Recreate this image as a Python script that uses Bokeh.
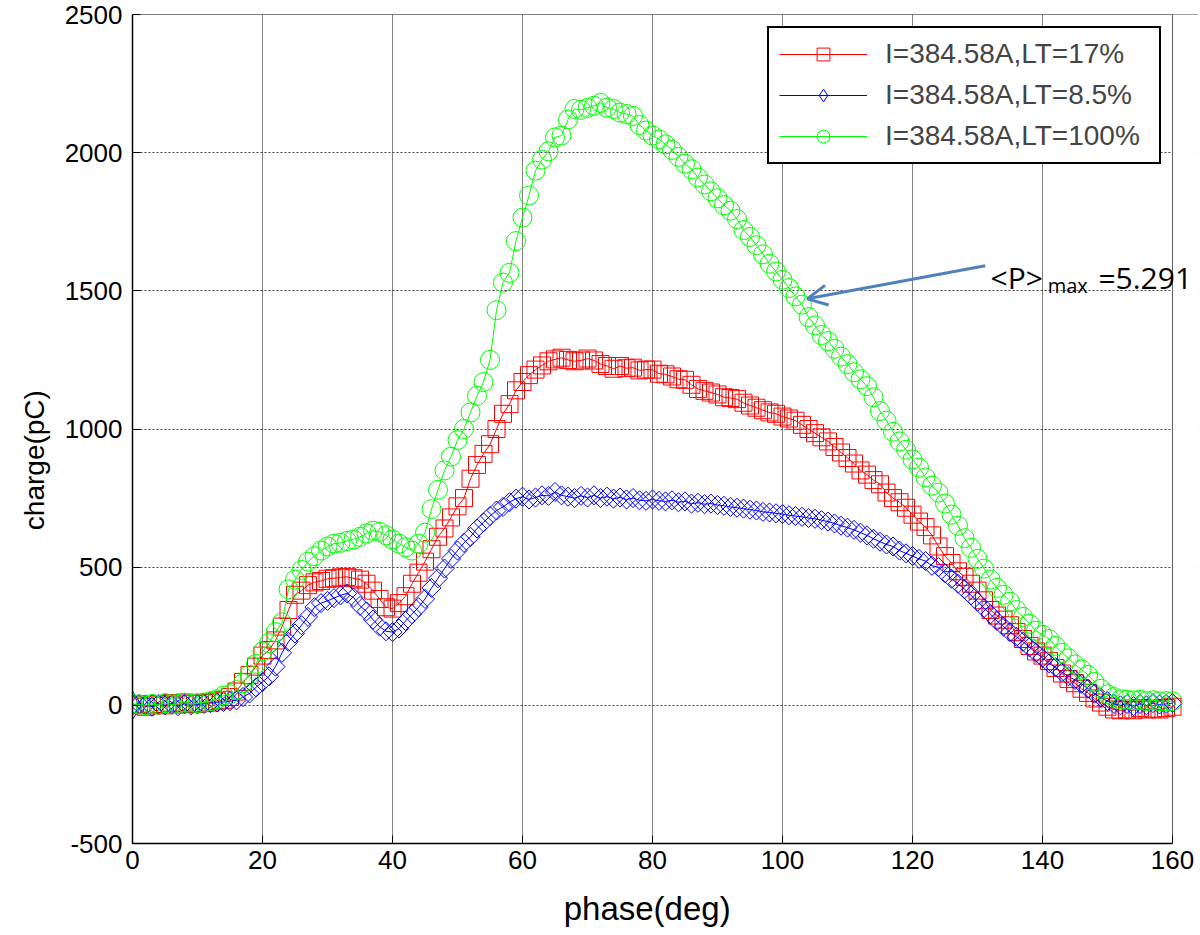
from bokeh.plotting import figure
from bokeh.models import Range1d, Label, Arrow, OpenHead, FixedTicker, Span, BoxAnnotation
from bokeh.embed import file_html
from bokeh.resources import INLINE
import math

phase = list(range(0, 161))

charge_lt17 = [
    0, 5, -5, 0, 5, 0, 8, 3, 10, 5, 5,
    8, 10, 15, 20, 30, 50, 85, 110, 140, 180,
    200, 235, 285, 345, 400, 415, 435, 445, 450, 458,
    460, 463, 465, 460, 455, 440, 415, 385, 355, 350,
    370, 395, 440, 480, 520, 565, 610, 640, 680, 720,
    750, 820, 870, 910, 945, 1000, 1055, 1090, 1140, 1170,
    1195, 1215, 1230, 1245, 1252, 1258, 1250, 1245, 1248, 1255,
    1248, 1235, 1228, 1218, 1228, 1220, 1222, 1212, 1215, 1215,
    1200, 1198, 1190, 1180, 1178, 1160, 1145, 1138, 1132, 1125,
    1115, 1112, 1108, 1095, 1085, 1077, 1068, 1060, 1055, 1045,
    1038, 1030, 1015, 1000, 985, 970, 955, 935, 915, 895,
    875, 850, 835, 815, 800, 770, 750, 735, 715, 690,
    665, 645, 615, 575, 540, 515, 485, 465, 440, 415,
    380, 345, 325, 310, 290, 265, 240, 215, 195, 180,
    160, 135, 115, 95, 80, 60, 45, 25, 10, -5,
    -15, -18, -15, -18, -10, -15, -12, -15, -10, -5,
]

charge_lt85 = [
    0, 5, 0, -5, 5, 0, 3, -3, 5, 0, 3,
    5, 8, 10, 12, 15, 18, 30, 43, 65, 85,
    105, 140, 190, 230, 260, 290, 320, 355, 370, 378,
    388, 398, 405, 390, 360, 340, 310, 285, 268, 265,
    278, 305, 330, 355, 385, 425, 460, 495, 530, 560,
    588, 610, 640, 662, 685, 705, 718, 735, 748, 755,
    745, 752, 760, 758, 772, 760, 755, 750, 758, 752,
    760, 750, 755, 748, 752, 745, 750, 742, 740, 745,
    740, 738, 742, 735, 738, 730, 733, 728, 730, 725,
    722, 718, 715, 712, 708, 705, 700, 698, 695, 692,
    688, 685, 682, 678, 675, 670, 665, 658, 650, 643,
    635, 625, 615, 603, 592, 582, 575, 560, 550, 540,
    530, 522, 505, 500, 478, 458, 440, 420, 398, 375,
    352, 330, 305, 285, 265, 248, 230, 210, 190, 172,
    152, 138, 120, 105, 92, 78, 60, 42, 28, 15,
    5, 0, 5, -3, 5, 0, 8, 3, 5, 8,
]

charge_lt100 = [
    5, 3, 0, 5, 2, 8, 3, 5, 10, 5, 8,
    10, 15, 22, 35, 40, 55, 80, 110, 150, 195,
    225, 265, 300, 420, 455, 490, 520, 540, 560, 575,
    585, 588, 595, 600, 610, 622, 632, 628, 615, 600,
    585, 572, 560, 585, 625, 710, 780, 850, 900, 960,
    1000, 1060, 1120, 1170, 1250, 1430, 1530, 1565, 1680, 1765,
    1845, 1935, 1975, 2005, 2055, 2062, 2120, 2158, 2155, 2162,
    2170, 2180, 2163, 2158, 2145, 2140, 2133, 2100, 2080, 2062,
    2048, 2030, 2010, 1985, 1960, 1940, 1910, 1885, 1860, 1835,
    1810, 1790, 1760, 1720, 1695, 1665, 1632, 1598, 1570, 1540,
    1510, 1480, 1450, 1405, 1375, 1340, 1318, 1290, 1262, 1235,
    1205, 1180, 1155, 1115, 1065, 1030, 990, 955, 925, 890,
    860, 825, 795, 770, 730, 690, 650, 605, 570, 530,
    495, 455, 425, 400, 375, 345, 320, 295, 270, 255,
    240, 215, 190, 170, 148, 130, 110, 85, 60, 40,
    30, 22, 20, 18, 20, 15, 18, 15, 15, 15,
]

x_ticks = [0, 20, 40, 60, 80, 100, 120, 140, 160]
y_ticks = [-500, 0, 500, 1000, 1500, 2000, 2500]
X_MIN, X_MAX = 0, 160
Y_MIN, Y_MAX = -500, 2500

# label, values, colour, plot marker, size, angle, legend marker, legend size
series = [
    ("I=384.58A,LT=17%", charge_lt17, "#ff0000", "square", 17, 0.0, "square", 17),
    ("I=384.58A,LT=8.5%", charge_lt85, "#0000ff", "square", 13.5, math.pi / 4, "diamond", 28),
    ("I=384.58A,LT=100%", charge_lt100, "#00ff00", "circle", 19, 0.0, "circle", 18),
]

FONT = "Liberation Sans"
NBSP = "\u00a0"

# the frame runs a little past x=160 so that the annotation text is not clipped
p = figure(width=1200, height=935, output_backend="svg", toolbar_location=None,
           x_range=Range1d(X_MIN, 164), y_range=Range1d(Y_MIN, Y_MAX),
           min_border_left=132, min_border_right=2, min_border_top=14,
           min_border_bottom=92)
p.background_fill_color = "white"
p.border_fill_color = "white"
p.outline_line_color = None

p.xgrid.grid_line_color = "#808080"
p.xgrid.grid_line_width = 1
p.ygrid.grid_line_color = "#404040"
p.ygrid.grid_line_dash = "2 2"
p.ygrid.grid_line_width = 1

# box edges (top and right), and a white strip hiding grid beyond x=160
p.add_layout(Span(location=Y_MAX, dimension="width", line_color="black",
                  line_width=1, level="underlay"))
p.add_layout(BoxAnnotation(left=X_MAX + 0.1, right=200, fill_color="white", fill_alpha=1,
                           line_color=None, level="underlay"))
p.add_layout(Span(location=X_MAX, dimension="height", line_color="#606060",
                  line_width=1, level="underlay"))

for label, ys, color, marker, size, ang, lmarker, lsize in series:
    p.line(phase, ys, line_color=color, line_width=1, legend_label=label)
    if ang == 0.0:
        p.scatter(phase, ys, marker=marker, size=size, line_color=color,
                  fill_color=None, line_width=1, legend_label=label)
    else:
        p.scatter(phase, ys, marker=marker, size=size, angle=ang, line_color=color,
                  fill_color=None, line_width=1)
        # key glyph: a diamond at the first data point (hidden in the cluster at 0)
        p.scatter(phase[:1], ys[:1], marker=lmarker, size=lsize, line_color=color,
                  fill_color=None, line_width=1, legend_label=label)

p.xaxis.ticker = FixedTicker(ticks=x_ticks)
p.yaxis.ticker = FixedTicker(ticks=y_ticks)
p.xaxis.bounds = (X_MIN, X_MAX)
p.yaxis.major_label_overrides = {-500: "-500"}
p.xaxis.axis_label = "phase(deg)" + NBSP * 4
p.yaxis.axis_label = "charge(pC)" + NBSP * 8
for ax in (p.xaxis, p.yaxis):
    ax.axis_label_text_font = FONT
    ax.axis_label_text_font_style = "normal"
    ax.major_label_text_font = FONT
    ax.major_label_text_font_size = "26px"
    ax.major_label_text_color = "black"
    ax.axis_label_text_color = "black"
    ax.axis_line_color = "black"
    ax.axis_line_width = 1.5
    ax.major_tick_line_color = "black"
    ax.major_tick_in = 8
    ax.major_tick_out = 0
    ax.minor_tick_line_color = None
p.xaxis.axis_label_text_font_size = "33px"
p.yaxis.axis_label_text_font_size = "28px"
p.xaxis.major_label_standoff = 7
p.yaxis.major_label_standoff = 10
p.xaxis.axis_label_standoff = 18
p.yaxis.axis_label_standoff = 12

leg = p.legend[0]
leg.margin = 0
leg.padding = 10
leg.spacing = 9
leg.glyph_width = 88
leg.glyph_height = 32
leg.label_height = 32
leg.label_width = 264
leg.label_standoff = 18
leg.label_text_font = FONT
leg.label_text_font_size = "28px"
leg.border_line_color = "black"
leg.border_line_alpha = 1
leg.border_line_width = 2
leg.background_fill_color = "white"
leg.background_fill_alpha = 1
leg.location = (635, 679)

# annotation: <P>max = 5.291
arrow_start = (131.2, 1591)
arrow_end = (103.8, 1471)
p.add_layout(Arrow(end=OpenHead(size=20, line_color="#4f81bd", line_width=3),
                   x_start=arrow_start[0], y_start=arrow_start[1],
                   x_end=arrow_end[0], y_end=arrow_end[1],
                   line_color="#4f81bd", line_width=3))
ann_font = "Open Sans"
p.add_layout(Label(x=132.0, y=1547, text="<P>", text_font=ann_font,
                   text_font_size="30px", text_baseline="alphabetic", text_color="black"))
p.add_layout(Label(x=140.8, y=1518, text="max", text_font=ann_font,
                   text_font_size="20px", text_baseline="alphabetic", text_color="black"))
p.add_layout(Label(x=148.6, y=1547, text="=5.291", text_font=ann_font,
                   text_font_size="30px", text_baseline="alphabetic", text_color="black"))

open("out.html", "w").write(file_html(p, INLINE))
